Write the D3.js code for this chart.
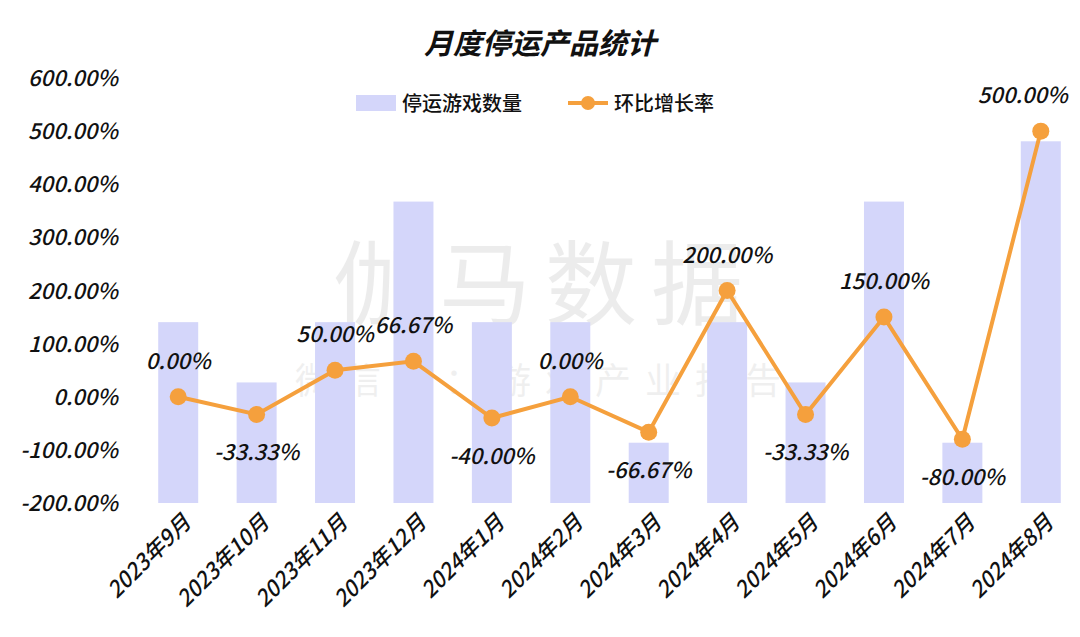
<!DOCTYPE html>
<html><head><meta charset="utf-8">
<script src="https://cdn.jsdelivr.net/npm/d3@7"></script>
<style>body{margin:0;background:#fff}text{font-family:"Noto Sans CJK SC","Noto Sans",sans-serif}</style>
</head><body>
<script>
const months = ["2023年9月","2023年10月","2023年11月","2023年12月","2024年1月","2024年2月","2024年3月","2024年4月","2024年5月","2024年6月","2024年7月","2024年8月"];
const counts = [3,2,3,5,3,3,1,3,2,5,1,6];
const rates = [0,-33.33,50,66.67,-40,0,-66.67,200,-33.33,150,-80,500];
const ticks = [-200,-100,0,100,200,300,400,500,600];

const W = 1080, H = 637;
const svg = d3.select("body").append("svg").attr("width", W).attr("height", H);

const x = d3.scaleBand().domain(months).range([139, 1080]).paddingInner(0.49).paddingOuter(0.245);
const y = d3.scaleLinear().domain([-200, 600]).range([503, 78]);
const y2 = d3.scaleLinear().domain([0, 7.05]).range([503, 78]);

svg.append("text").attr("x", 540).attr("y", 54).attr("text-anchor", "middle")
  .attr("font-size", 29).attr("font-weight", "bold").attr("font-style", "italic").attr("fill", "#111")
  .text("月度停运产品统计");

// watermark
svg.append("text").attr("x", 545).attr("y", 318).attr("text-anchor", "middle")
  .attr("font-size", 92).attr("fill", "#000").attr("opacity", 0.07).attr("letter-spacing", 14).text("伽马数据");
svg.append("text").attr("x", 545).attr("y", 394).attr("text-anchor", "middle")
  .attr("font-size", 36).attr("fill", "#000").attr("opacity", 0.06).attr("letter-spacing", 14).text("微信号：游戏产业报告");

// y axis labels
svg.selectAll(".yt").data(ticks).join("text")
  .attr("x", 118).attr("y", d => y(d) + 8).attr("text-anchor", "end")
  .attr("font-size", 22).attr("font-weight", 500).attr("font-style", "italic").attr("fill", "#111")
  .text(d => d.toFixed(2) + "%");

// bars
svg.selectAll(".bar").data(counts).join("rect")
  .attr("x", (d, i) => x(months[i])).attr("width", x.bandwidth())
  .attr("y", d => y2(d)).attr("height", d => y2(0) - y2(d))
  .attr("fill", "#d4d6fa");

// line
const cx = i => x(months[i]) + x.bandwidth() / 2;
svg.append("path").datum(rates)
  .attr("d", d3.line().x((d, i) => cx(i)).y(d => y(d)))
  .attr("fill", "none").attr("stroke", "#f5a03d").attr("stroke-width", 4);
svg.selectAll(".pt").data(rates).join("circle")
  .attr("cx", (d, i) => cx(i)).attr("cy", d => y(d)).attr("r", 8.5).attr("fill", "#f5a03d");

// labels
const above = [true,false,true,true,false,true,false,true,false,true,false,true];
svg.selectAll(".lbl").data(rates).join("text")
  .attr("x", (d, i) => cx(i) + (i === 11 ? -18 : 0))
  .attr("y", (d, i) => above[i] ? y(d) - 28 : y(d) + 46)
  .attr("text-anchor", "middle").attr("font-size", 22).attr("font-weight", 500).attr("font-style", "italic").attr("fill", "#111")
  .text(d => d.toFixed(2) + "%");

// x labels
svg.selectAll(".xl").data(months).join("text")
  .attr("transform", d => `translate(${x(d) + x.bandwidth() / 2 + 14},${524}) rotate(-45)`)
  .attr("text-anchor", "end").attr("font-size", 22).attr("font-weight", 500).attr("font-style", "italic").attr("fill", "#111")
  .text(d => d);

// legend
svg.append("rect").attr("x", 356).attr("y", 95).attr("width", 40).attr("height", 16).attr("fill", "#d4d6fa");
svg.append("text").attr("x", 402).attr("y", 111).attr("font-size", 20).attr("font-weight", 500).attr("fill", "#111").text("停运游戏数量");
svg.append("line").attr("x1", 568).attr("x2", 608).attr("y1", 103).attr("y2", 103).attr("stroke", "#f5a03d").attr("stroke-width", 4);
svg.append("circle").attr("cx", 588).attr("cy", 103).attr("r", 7).attr("fill", "#f5a03d");
svg.append("text").attr("x", 614).attr("y", 111).attr("font-size", 20).attr("font-weight", 500).attr("fill", "#111").text("环比增长率");
</script>
</body></html>
